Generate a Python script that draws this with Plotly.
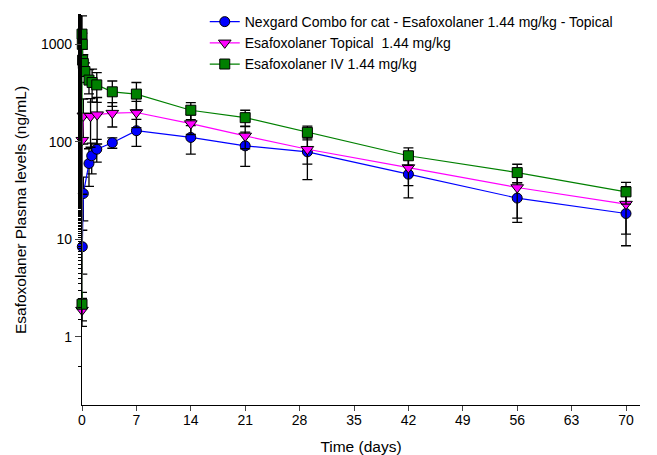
import plotly.graph_objects as go

# --- Data ---
combo_time = [0.04, 0.17, 0.9, 1.25, 1.9, 3.9, 7, 14, 21, 29, 42, 56, 70]
combo_conc = [8.4, 29.5, 60, 72, 84, 98, 130, 111, 91, 79, 46.6, 26.5, 18.4]
combo_sd = [4, 14, 25, 25, 22, 12, 40, 36, 35, 38, 20, 11.6, 9.8]

topical_time = [0, 0.04, 0.17, 1.1, 1.95, 3.9, 7, 14, 21, 29, 42, 56, 70]
topical_conc = [1.88, 104, 185, 183, 190, 197, 200, 154, 115, 84, 54.5, 34, 23]
topical_sd = [0.6, 75, 90, 95, 95, 55, 60, 35, 30, 25, 19, 17.5, 11.7]

iv_time = [0, 0.003, 0.04, 0.08, 0.17, 0.38, 0.9, 1.3, 1.9, 3.9, 7, 14, 21, 29, 42, 56, 70]
iv_conc = [2.16, 1273, 1000, 689, 635, 526, 430, 406, 384, 326, 309, 211, 177, 125, 72, 48.4, 30.7]
iv_sd = [0.7, 690, 300, 200, 150, 120, 120, 150, 130, 95, 97, 42, 34, 20, 14.6, 10.5, 7.7]

x_ticks = [0, 7, 14, 21, 28, 35, 42, 49, 56, 63, 70]
y_ticks = [1, 10, 100, 1000]
y_ticklabels = ["1", "10", "100", "1000"]

names = [
    "Nexgard Combo for cat - Esafoxolaner 1.44 mg/kg - Topical",
    "Esafoxolaner Topical  1.44 mg/kg",
    "Esafoxolaner IV 1.44 mg/kg",
]

FONT = "Liberation Sans, Arial, sans-serif"

def err(vals, sds):
    up = list(sds)
    down = [min(s, v * 0.999) for v, s in zip(vals, sds)]
    return dict(type="data", symmetric=False, array=up, arrayminus=down,
                color="black", thickness=1.3, width=5)

fig = go.Figure()
series = [
    (combo_time, combo_conc, combo_sd, "blue", "circle", names[0], 10),
    (topical_time, topical_conc, topical_sd, "magenta", "triangle-down", names[1], 11),
    (iv_time, iv_conc, iv_sd, "green", "square", names[2], 10),
]
for t, c, sd, col, sym, nm, sz in series:
    fig.add_trace(go.Scatter(
        x=t, y=c, name=nm, mode="lines+markers",
        line=dict(color=col, width=1.2),
        marker=dict(symbol=sym, size=sz, color=col, line=dict(color="black", width=1)),
        error_y=err(c, sd),
        cliponaxis=False,
    ))

# page body has an 8px margin, so the figure is 8px smaller and margins shifted
fig.update_layout(
    width=649, height=447,
    margin=dict(l=74, r=17, t=7, b=50, autoexpand=False),
    paper_bgcolor="white", plot_bgcolor="white",
    font=dict(family=FONT, size=14, color="black"),
    showlegend=True,
    legend=dict(x=0.22, y=1.023, xanchor="left", yanchor="top",
                bgcolor="rgba(0,0,0,0)", font=dict(size=14), tracegroupgap=0),
)
fig.update_xaxes(
    range=[0, 71.8], tickvals=x_ticks, ticks="outside", ticklen=5,
    showline=True, linecolor="black", linewidth=1.2, showgrid=False, zeroline=False,
    tickfont=dict(size=14), automargin=False, ticklabelstandoff=-3,
    title=dict(text="Time (days)", font=dict(size=15.5), standoff=19),
)
fig.update_yaxes(
    type="log", range=[-0.699, 3.301], tickvals=y_ticks, ticktext=y_ticklabels,
    ticks="outside", ticklen=6, showline=True, linecolor="black", linewidth=1.2,
    showgrid=False, zeroline=False, tickfont=dict(size=14), automargin=False,
    minor=dict(ticks="outside", ticklen=3, tickcolor="black", showgrid=False),
    title=dict(text="Esafoxolaner Plasma levels (ng/mL)", font=dict(size=15.5), standoff=10),
)

fig.write_html("out.html")
